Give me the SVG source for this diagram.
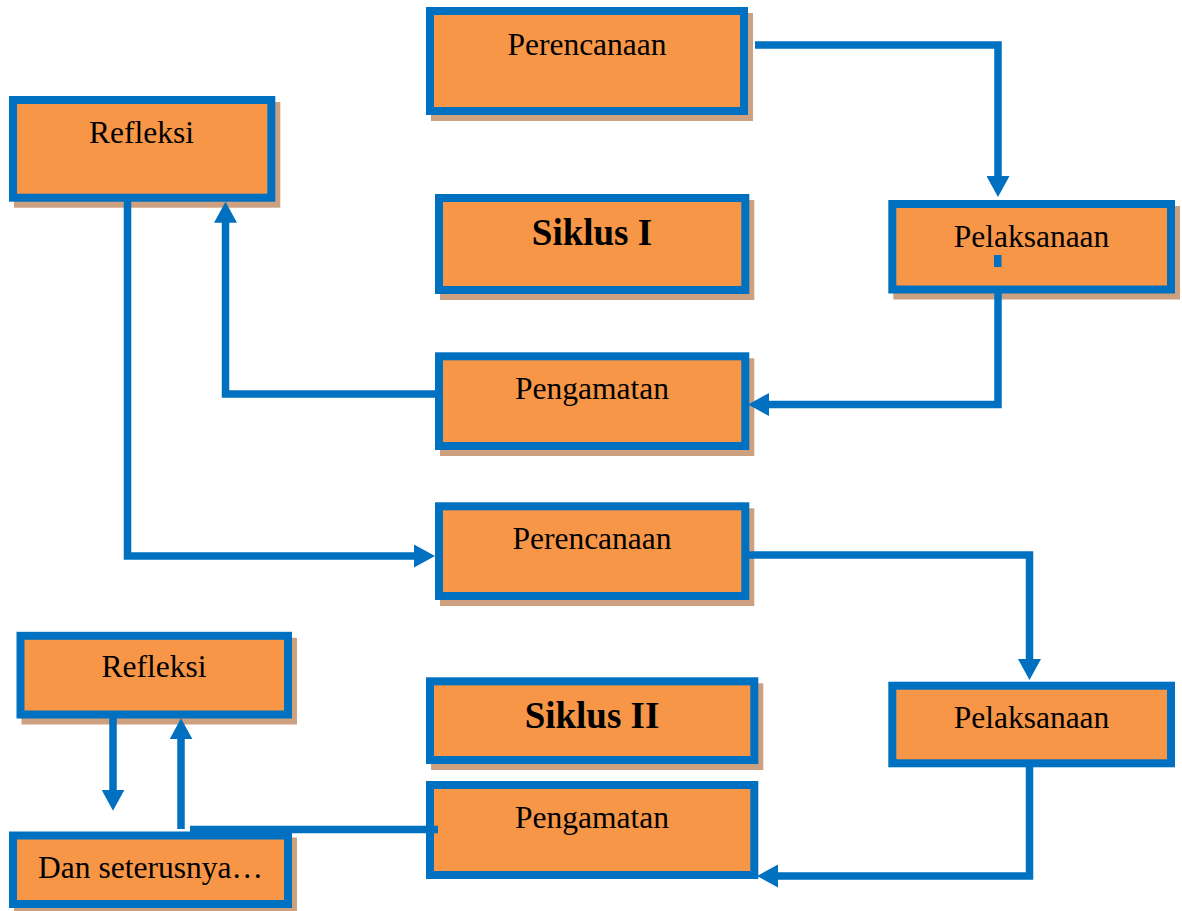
<svg xmlns="http://www.w3.org/2000/svg" width="1182" height="911" viewBox="0 0 1182 911">
<style>
.sh{fill:#CDA07F}
.bx{fill:#F79646;stroke:#0070C0;stroke-width:8}
.t{font-family:"Liberation Serif","Times New Roman",serif;font-size:31.5px;fill:#000;text-anchor:middle}
.b{font-weight:bold;font-size:37px}
.c{fill:none;stroke:#0070C0;stroke-width:7.5;stroke-linejoin:miter}
.a{marker-end:url(#ah)}
</style>
<defs>
<marker id="ah" markerUnits="userSpaceOnUse" markerWidth="22" markerHeight="23" refX="3" refY="11.5" orient="auto">
<path d="M0,0 L21,11.5 L0,23 Z" fill="#0070C0"/>
</marker>
</defs>
<rect width="1182" height="911" fill="#fff"/>
<g id="n1"><rect class="sh" x="431" y="13" width="322" height="108"/><rect class="bx" x="430" y="11" width="314" height="100"/><text class="t" x="587" y="55">Perencanaan</text></g>
<g id="n2"><rect class="sh" x="14" y="102" width="266.3" height="105.7"/><rect class="bx" x="13" y="100" width="258.3" height="97.7"/><text class="t" x="141.5" y="143">Refleksi</text></g>
<g id="n3"><rect class="sh" x="440" y="200" width="314.3" height="100"/><rect class="bx" x="439" y="198" width="306.3" height="92"/><text class="t b" x="592" y="245">Siklus I</text></g>
<g id="n4"><rect class="sh" x="893.3" y="206" width="286.7" height="93.5"/><rect class="bx" x="892.3" y="204" width="278.7" height="85.5"/><text class="t" x="1031.5" y="246.7">Pelaksanaan</text><rect x="994" y="255" width="7.5" height="12" fill="#0070C0"/></g>
<g id="n5"><rect class="sh" x="440" y="358.3" width="314.3" height="97.7"/><rect class="bx" x="439" y="356.3" width="306.3" height="89.7"/><text class="t" x="592" y="399.3">Pengamatan</text></g>
<g id="n6"><rect class="sh" x="440" y="508.3" width="314.3" height="97.7"/><rect class="bx" x="439" y="506.3" width="306.3" height="89.7"/><text class="t" x="592" y="549.3">Perencanaan</text></g>
<g id="n7"><rect class="sh" x="431" y="683.3" width="332.3" height="86.7"/><rect class="bx" x="430" y="681.3" width="324.3" height="78.7"/><text class="t b" x="592" y="728.3">Siklus II</text></g>
<g id="n8"><rect class="bx" x="892.3" y="685.7" width="278.7" height="77.6"/><text class="t" x="1031.5" y="728.3">Pelaksanaan</text></g>
<g id="n9"><rect class="bx" x="430" y="785" width="324.3" height="90"/><text class="t" x="592" y="828.3">Pengamatan</text></g>
<g id="n10"><rect class="sh" x="21.5" y="637.8" width="275.5" height="86.7"/><rect class="bx" x="20.5" y="635.8" width="267.5" height="78.7"/><text class="t" x="154" y="677.3">Refleksi</text></g>
<g id="n11"><rect class="sh" x="14" y="837.5" width="283" height="76.5"/><rect class="bx" x="13" y="835.5" width="275" height="68.5"/><text class="t" x="150.5" y="878.3">Dan seterusnya…</text></g>
<g id="connectors">
<path class="c a" d="M755,45 H998 V179"/>
<path class="c a" d="M998,293 V404.5 H766"/>
<path class="c a" d="M435,394 H225.5 V219.7"/>
<path class="c a" d="M127.5,201 V556 H417"/>
<path class="c a" d="M749,555 H1029.5 V662"/>
<path class="c a" d="M1029.5,767 V876 H775"/>
<path class="c a" d="M113,718 V792.7"/>
<path class="c a" d="M181,829 V736.3"/>
<path class="c" d="M190,829.5 H438"/>
</g>
</svg>
